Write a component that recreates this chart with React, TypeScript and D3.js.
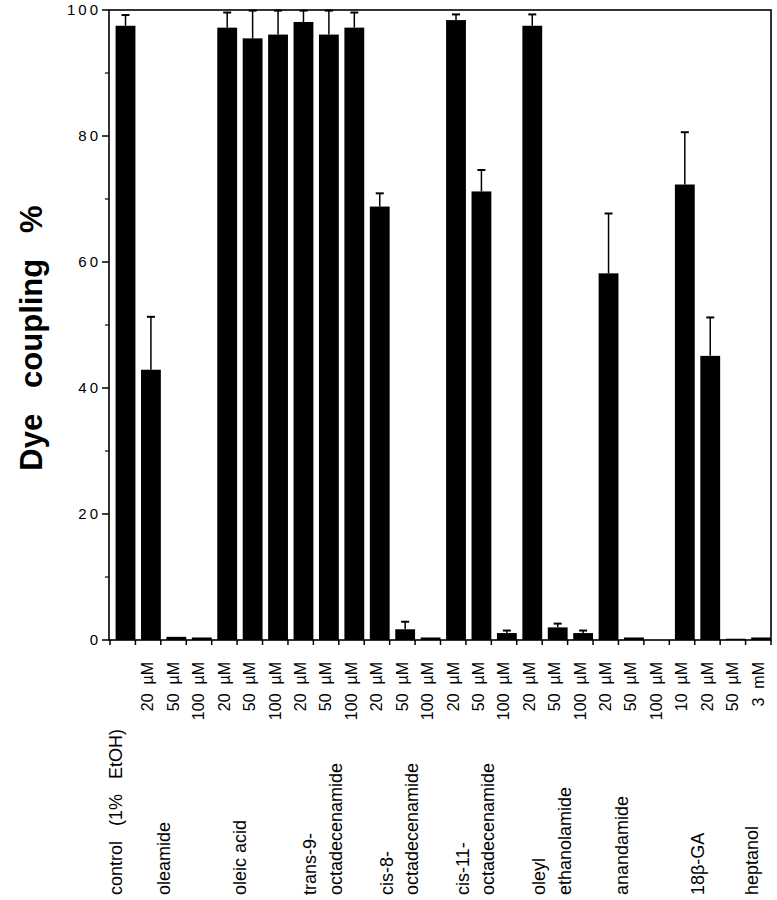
import React from 'react';
import * as d3 from 'd3';

// one entry per bar, left to right
const concLabels = [
  '', '20  µM', '50  µM', '100  µM',
  '20  µM', '50  µM', '100  µM',
  '20  µM', '50  µM', '100  µM',
  '20  µM', '50  µM', '100  µM',
  '20  µM', '50  µM', '100  µM',
  '20  µM', '50  µM', '100  µM',
  '20  µM', '50  µM', '100  µM',
  '10  µM', '20  µM', '50  µM',
  '3  mM',
];
const coupling = [
  97.5, 42.9, 0.5, 0.4,
  97.2, 95.5, 96.1,
  98.1, 96.1, 97.2,
  68.8, 1.7, 0.4,
  98.4, 71.2, 1.1,
  97.5, 2.0, 1.1,
  58.2, 0.4, 0,
  72.3, 45.1, 0.2,
  0.4,
];
const couplingErr = [
  1.7, 8.4, 0, 0,
  2.4, 4.4, 3.8,
  1.8, 3.8, 2.4,
  2.1, 1.2, 0,
  0.9, 3.4, 0.4,
  1.8, 0.6, 0.4,
  9.5, 0, 0,
  8.3, 6.1, 0,
  0,
];

// compound groups
const groupNames = [
  ['control   (1%   EtOH)'],
  ['oleamide'],
  ['oleic acid'],
  ['trans-9-', 'octadecenamide'],
  ['cis-8-', 'octadecenamide'],
  ['cis-11-', 'octadecenamide'],
  ['oleyl', 'ethanolamide'],
  ['anandamide'],
  ['18β-GA'],
  ['heptanol'],
];
const groupSizes = [1, 3, 3, 3, 3, 3, 3, 3, 3, 1];

const yTicks = [0, 20, 40, 60, 80, 100];
const yMinor = [10, 30, 50, 70, 90];

const W = 777;
const H = 900;
const left = 109;
const right = 771;
const top = 10;
const bottom = 640;

const font = '"Liberation Sans", Arial, Helvetica, sans-serif';

export default function App() {
  const x = d3.scaleBand<number>()
    .domain(d3.range(coupling.length))
    .range([left + 1, right])
    .padding(0);
  const y = d3.scaleLinear().domain([0, 100]).range([bottom, top]);
  const bw = x.bandwidth();
  const barW = bw * 0.78;
  const barX = (i: number) => (x(i) as number) + bw - barW;
  const cx = (i: number) => barX(i) + barW / 2;

  const starts: number[] = [];
  groupSizes.reduce((acc, n) => { starts.push(acc); return acc + n; }, 0);

  const boundaries = d3.range(coupling.length + 1).map(i => (left + 1) + i * bw);

  return (
    <div style={{ position: 'absolute', left: 0, top: 0 }}>
      <svg width={W} height={H} style={{ display: 'block', background: '#fff' }}>
        {/* bars */}
        {coupling.map((v, i) => v > 0 && (
          <rect key={'b' + i} x={barX(i)} y={y(v)} width={barW} height={bottom - y(v)} fill="#000" />
        ))}
        {/* error bars, upper only */}
        {coupling.map((v, i) => couplingErr[i] > 0 && (
          <g key={'e' + i} stroke="#000">
            <line x1={cx(i)} x2={cx(i)} y1={y(v)} y2={y(v + couplingErr[i])} strokeWidth={1.5} />
            <line x1={cx(i) - 4} x2={cx(i) + 4} y1={y(v + couplingErr[i])} y2={y(v + couplingErr[i])} strokeWidth={2} />
          </g>
        ))}

        {/* frame */}
        <rect x={left} y={top} width={right - left} height={bottom - top} fill="none" stroke="#000" strokeWidth={1.6} />

        {/* y axis */}
        {yTicks.map(t => (
          <g key={'yt' + t}>
            <line x1={left - 7} x2={left} y1={y(t)} y2={y(t)} stroke="#000" strokeWidth={1.5} />
            <text x={101} y={y(t)} dy="0.36em" textAnchor="end" fontFamily={font} fontSize={15}
              letterSpacing={3}>{t}</text>
          </g>
        ))}
        {yMinor.map(t => (
          <line key={'ym' + t} x1={left - 4} x2={left} y1={y(t)} y2={y(t)} stroke="#000" strokeWidth={1.2} />
        ))}
        <text transform={`translate(42,${338}) rotate(-90)`} textAnchor="middle" fontFamily={font}
          fontWeight="bold" fontSize={31} style={{ whiteSpace: 'pre' }}>{'Dye   coupling   %'}</text>

        {/* x ticks */}
        {boundaries.map((b, i) => (
          <line key={'xt' + i} x1={b} x2={b} y1={bottom} y2={bottom + 5} stroke="#000" strokeWidth={1.5} />
        ))}

        {/* concentration labels */}
        {concLabels.map((c, i) => c && (
          <text key={'c' + i} transform={`translate(${cx(i) + 2.5},662) rotate(-90)`} textAnchor="end"
            fontFamily={font} fontSize={16} style={{ whiteSpace: 'pre' }}>{c}</text>
        ))}

        {/* compound labels */}
        {groupNames.map((lines, g) => {
          const c0 = cx(starts[g]);
          return lines.map((ln, k) => {
            let center;
            if (groupSizes[g] === 1) center = c0 - 10;
            else if (lines.length === 1) center = c0 + 0.5 * bw;
            else center = c0 + (0.25 + k) * bw;
            return (
              <text key={'g' + g + k} transform={`translate(${center + 6.5},895) rotate(-90)`}
                textAnchor="start" fontFamily={font} fontSize={18} style={{ whiteSpace: 'pre' }}>{ln}</text>
            );
          });
        })}
      </svg>
    </div>
  );
}
